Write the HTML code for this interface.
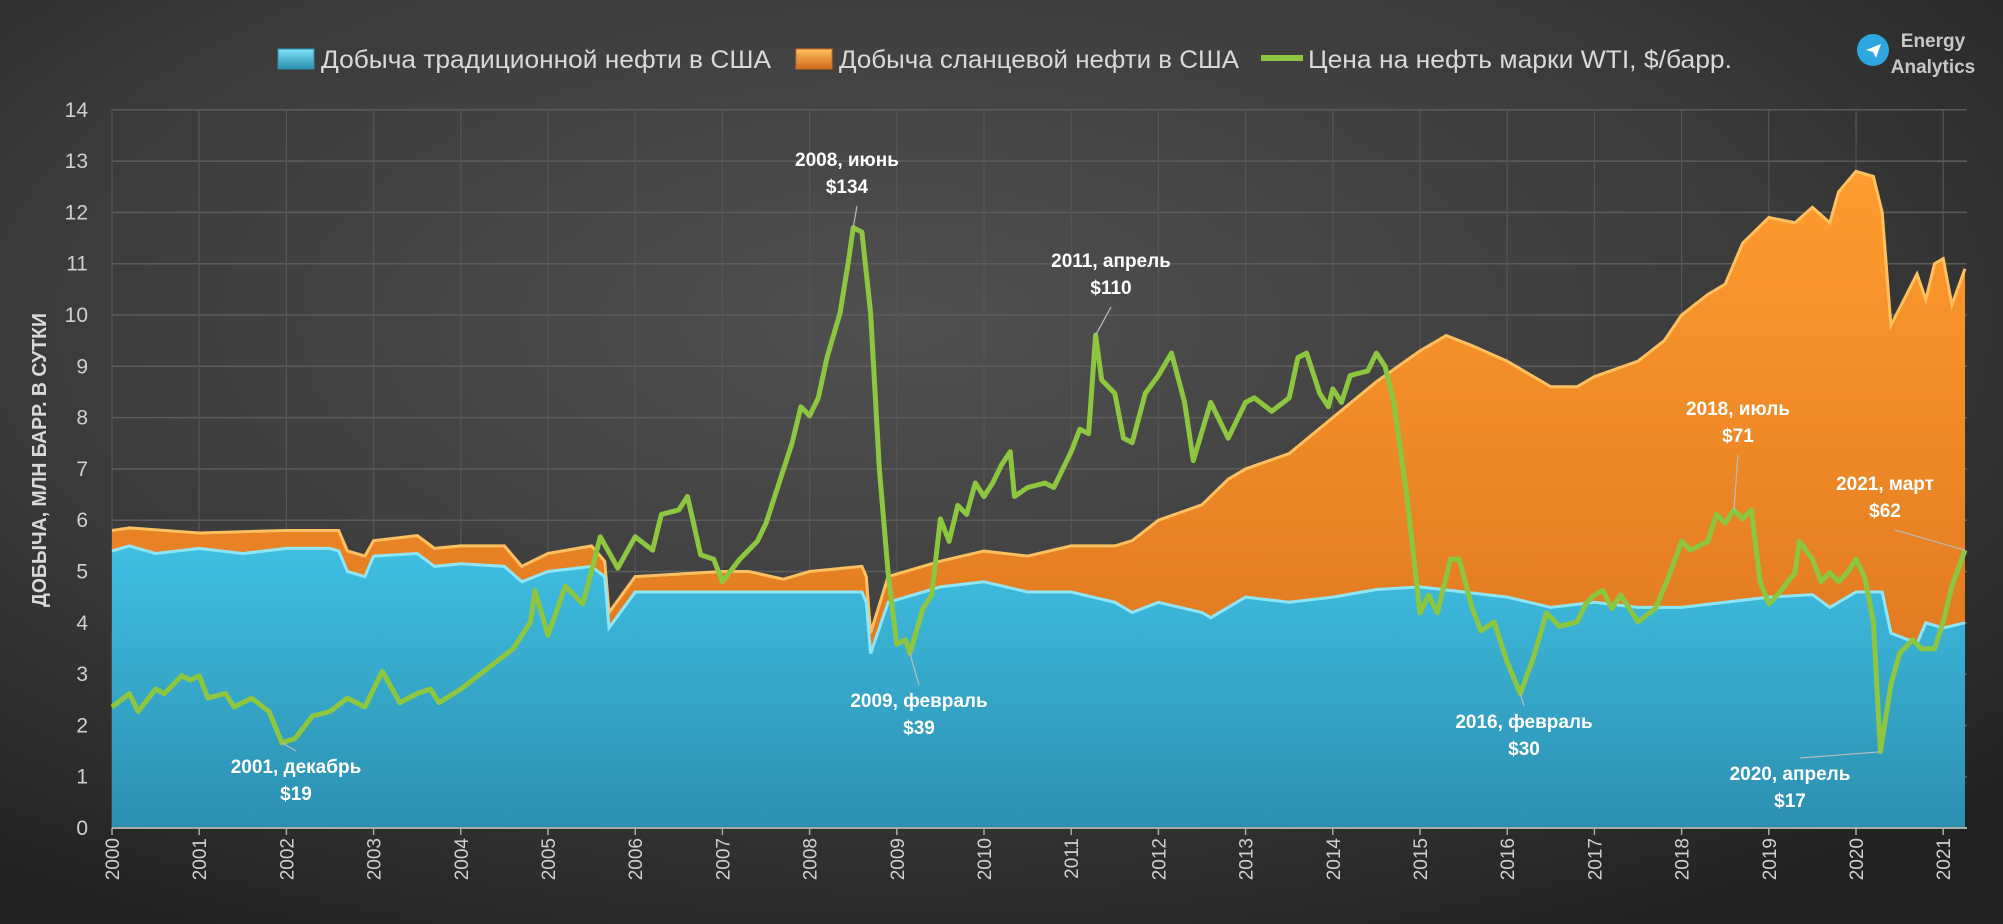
<!DOCTYPE html>
<html><head><meta charset="utf-8"><style>
html,body{margin:0;padding:0;}
body{width:2003px;height:924px;overflow:hidden;background:#2a2a2a;}
svg{display:block;font-family:"Liberation Sans",sans-serif;}
</style></head><body>
<svg id="chart" width="2003" height="924" viewBox="0 0 2003 924">
<defs>
<radialGradient id="bg" cx="0.45" cy="0.35" r="0.75">
<stop offset="0" stop-color="#505050"/><stop offset="0.6" stop-color="#3a3a3a"/><stop offset="1" stop-color="#222"/>
</radialGradient>
<linearGradient id="gBlue" x1="0" y1="0" x2="0" y2="1">
<stop offset="0" stop-color="#3fbfe2"/><stop offset="1" stop-color="#2c8fb0"/>
</linearGradient>
<linearGradient id="gOr" x1="0" y1="0" x2="0" y2="1">
<stop offset="0" stop-color="#ff9c2e"/><stop offset="1" stop-color="#d66e1c"/>
</linearGradient>
<linearGradient id="gSwB" x1="0" y1="0" x2="0" y2="1">
<stop offset="0" stop-color="#7fe0f6"/><stop offset="1" stop-color="#2a8fb0"/>
</linearGradient>
<linearGradient id="gSwO" x1="0" y1="0" x2="0" y2="1">
<stop offset="0" stop-color="#ffc060"/><stop offset="1" stop-color="#d06a1a"/>
</linearGradient>
</defs>
<rect x="0" y="0" width="2003" height="924" fill="url(#bg)"/>
<g id="grid"></g>
<g id="areas"></g>
<g id="axes"></g>
<g id="line"></g>
<g id="ann"></g>
<g>
<rect x="278" y="49" width="36" height="20" fill="url(#gSwB)" stroke="#2a8fb0"/>
<text x="321" y="68" font-size="25" fill="#d9d9d9" textLength="450" lengthAdjust="spacingAndGlyphs">Добыча традиционной нефти в США</text>
<rect x="796" y="49" width="36" height="20" fill="url(#gSwO)" stroke="#c86a1c"/>
<text x="839" y="68" font-size="25" fill="#d9d9d9" textLength="400" lengthAdjust="spacingAndGlyphs">Добыча сланцевой нефти в США</text>
<line x1="1261" y1="58" x2="1303" y2="58" stroke="#8dc63f" stroke-width="6"/>
<text x="1308" y="68" font-size="25" fill="#d9d9d9" textLength="424" lengthAdjust="spacingAndGlyphs">Цена на нефть марки WTI, $/барр.</text>
</g>
<g>
<circle cx="1873" cy="50" r="16" fill="#2ea6e0"/>
<path d="M1866 50 L1881 44 L1876 58 L1873 52 Z" fill="#fff"/>
<text x="1933" y="47" font-size="19" font-weight="bold" fill="#c8c8c8" text-anchor="middle">Energy</text>
<text x="1933" y="73" font-size="19" font-weight="bold" fill="#c8c8c8" text-anchor="middle">Analytics</text>
</g>
<text transform="translate(46,460) rotate(-90)" font-size="20" font-weight="bold" fill="#d9d9d9" text-anchor="middle" textLength="294" lengthAdjust="spacingAndGlyphs">ДОБЫЧА, МЛН БАРР. В СУТКИ</text>
</svg>
<script>
const convT=[2000,2000.2,2000.5,2001,2001.5,2002,2002.5,2002.6,2002.7,2002.9,2003,2003.5,2003.7,2004,2004.5,2004.7,2005,2005.5,2005.65,2005.7,2006,2007,2008,2008.6,2008.65,2008.7,2008.9,2009.5,2010,2010.5,2011,2011.5,2011.7,2012,2012.5,2012.6,2013,2013.5,2014,2014.5,2015,2015.5,2016,2016.5,2017,2017.5,2018,2018.5,2019,2019.5,2019.7,2020,2020.3,2020.4,2020.7,2020.8,2021,2021.25];
const convV=[5.4,5.5,5.35,5.45,5.35,5.45,5.45,5.4,5.0,4.9,5.3,5.35,5.1,5.15,5.1,4.8,5.0,5.1,4.9,3.9,4.6,4.6,4.6,4.6,4.4,3.4,4.4,4.7,4.8,4.6,4.6,4.4,4.2,4.4,4.2,4.1,4.5,4.4,4.5,4.65,4.7,4.6,4.5,4.3,4.4,4.3,4.3,4.4,4.5,4.55,4.3,4.6,4.6,3.8,3.6,4.0,3.9,4.0];
const totT=[2000,2000.2,2001,2002,2002.6,2002.7,2002.9,2003,2003.5,2003.7,2004,2004.5,2004.7,2005,2005.5,2005.65,2005.7,2006,2007,2007.3,2007.7,2008,2008.6,2008.65,2008.7,2008.9,2009.5,2010,2010.5,2011,2011.5,2011.7,2012,2012.5,2012.8,2013,2013.5,2014,2014.5,2015,2015.3,2015.6,2016,2016.5,2016.8,2017,2017.5,2017.8,2018,2018.3,2018.5,2018.7,2019,2019.3,2019.5,2019.7,2019.8,2020,2020.2,2020.3,2020.4,2020.7,2020.8,2020.9,2021,2021.1,2021.25];
const totV=[5.8,5.85,5.75,5.8,5.8,5.4,5.3,5.6,5.7,5.45,5.5,5.5,5.1,5.35,5.5,5.2,4.2,4.9,5.0,5.0,4.85,5.0,5.1,4.9,3.8,4.9,5.2,5.4,5.3,5.5,5.5,5.6,6.0,6.3,6.8,7.0,7.3,8.0,8.7,9.3,9.6,9.4,9.1,8.6,8.6,8.8,9.1,9.5,10.0,10.4,10.6,11.4,11.9,11.8,12.1,11.8,12.4,12.8,12.7,12.0,9.8,10.8,10.3,11.0,11.1,10.2,10.9];
const priceT=[2000,2000.2,2000.3,2000.5,2000.6,2000.8,2000.9,2001,2001.1,2001.3,2001.4,2001.6,2001.8,2001.95,2002.1,2002.3,2002.5,2002.7,2002.9,2003.1,2003.3,2003.5,2003.65,2003.75,2004,2004.2,2004.4,2004.6,2004.8,2004.85,2005,2005.2,2005.4,2005.6,2005.8,2006,2006.2,2006.3,2006.5,2006.6,2006.75,2006.9,2007,2007.2,2007.4,2007.5,2007.6,2007.8,2007.9,2008,2008.1,2008.2,2008.35,2008.45,2008.5,2008.6,2008.7,2008.8,2008.9,2009,2009.1,2009.15,2009.3,2009.4,2009.5,2009.6,2009.7,2009.8,2009.9,2010,2010.1,2010.2,2010.3,2010.35,2010.5,2010.7,2010.8,2011,2011.1,2011.2,2011.28,2011.35,2011.5,2011.6,2011.7,2011.85,2012,2012.15,2012.3,2012.4,2012.6,2012.8,2013,2013.1,2013.3,2013.5,2013.6,2013.7,2013.85,2013.95,2014,2014.1,2014.2,2014.4,2014.5,2014.6,2014.7,2014.85,2015,2015.1,2015.2,2015.35,2015.45,2015.6,2015.7,2015.85,2016,2016.15,2016.3,2016.45,2016.6,2016.8,2016.9,2017,2017.1,2017.2,2017.3,2017.5,2017.7,2017.85,2018,2018.1,2018.3,2018.4,2018.5,2018.6,2018.7,2018.8,2018.9,2019,2019.1,2019.3,2019.35,2019.5,2019.6,2019.7,2019.8,2019.9,2020,2020.1,2020.2,2020.28,2020.4,2020.5,2020.65,2020.75,2020.9,2021,2021.1,2021.25];
const priceV=[27,30,26,31,30,34,33,34,29,30,27,29,26,19,20,25,26,29,27,35,28,30,31,28,31,34,37,40,46,53,43,54,50,65,58,65,62,70,71,74,61,60,55,60,64,68,74,86,94,92,96,105,115,127,134,133,115,80,57,41,42,39,49,52,69,64,72,70,77,74,77,81,84,74,76,77,76,84,89,88,110,100,97,87,86,97,101,106,95,82,95,87,95,96,93,96,105,106,97,94,98,95,101,102,106,103,95,74,48,52,48,60,60,49,44,46,37,30,38,48,45,46,50,52,53,49,52,46,49,56,64,62,64,70,68,71,69,71,55,50,52,57,64,60,55,57,55,57,60,56,46,17,32,39,42,40,40,46,54,62];
const priceScale=11.45; // $ per axis unit (134$ ≈ 11.7)
const yTicks=[0,1,2,3,4,5,6,7,8,9,10,11,12,13,14];
const xTicks=[2000,2001,2002,2003,2004,2005,2006,2007,2008,2009,2010,2011,2012,2013,2014,2015,2016,2017,2018,2019,2020,2021];
const annLabels=["2001, декабрь","2008, июнь","2009, февраль","2011, апрель","2016, февраль","2018, июль","2020, апрель","2021, март"];
const annValues=["$19","$134","$39","$110","$30","$71","$17","$62"];
const annT=[2001.95,2008.5,2009.15,2011.28,2016.15,2018.6,2020.28,2021.25];

const X0=112,PX=87.2,Y0=828,PY=51.3,XR=1967;
const xs=t=>X0+(t-2000)*PX, ys=v=>Y0-v*PY;
const NS='http://www.w3.org/2000/svg';
function mk(tag,parent,attrs){const e=document.createElementNS(NS,tag);for(const k in attrs)e.setAttribute(k,attrs[k]);parent.appendChild(e);return e;}
const grid=document.getElementById('grid'),axes=document.getElementById('axes'),areas=document.getElementById('areas'),lineG=document.getElementById('line'),ann=document.getElementById('ann');
yTicks.forEach(v=>{
  const l=mk('line',grid,{x1:X0,x2:XR,y1:ys(v),y2:ys(v),stroke:'#5c5c5c','stroke-width':1.5});
  
  
  const t=mk('text',axes,{x:88,y:ys(v)+7,'font-size':21,fill:'#d0d0d0','text-anchor':'end'});
  
  
  t.textContent=v;
});
xTicks.forEach(v=>{
  const l=mk('line',grid,{x1:xs(v),x2:xs(v),y1:ys(14),y2:Y0,stroke:'#555','stroke-width':1.2});
  
  
  const tk=mk('line',axes,{x1:xs(v),x2:xs(v),y1:Y0,y2:Y0+7,stroke:'#aaa','stroke-width':1.5});
  
  
  const t=mk('text',axes,{transform:`translate(${xs(v)+7},${Y0+10}) rotate(-90)`,'font-size':19,fill:'#d0d0d0','text-anchor':'end'});
  
  
  t.textContent=v;
});
function areaPath(T,V){let d=`M${xs(T[0])},${Y0}`;T.forEach((t,i)=>d+=` L${xs(t).toFixed(1)},${ys(V[i]).toFixed(1)}`);return d+` L${xs(T[T.length-1])},${Y0} Z`;}
function linePath(T,V){return T.map((t,i)=>(i?'L':'M')+xs(t).toFixed(1)+','+ys(V[i]).toFixed(1)).join(' ');}
const ao=mk('path',areas,{d:areaPath(totT,totV),fill:'url(#gOr)'});


const aoe=mk('path',areas,{d:linePath(totT,totV),fill:'none',stroke:'#ffc060','stroke-width':3});


const ab=mk('path',areas,{d:areaPath(convT,convV),fill:'url(#gBlue)'});


const abe=mk('path',areas,{d:linePath(convT,convV),fill:'none',stroke:'#8fe6f8','stroke-width':3});


const ax=mk('line',axes,{x1:X0,x2:XR,y1:Y0,y2:Y0,stroke:'#aaa','stroke-width':2});


const pl=mk('path',lineG,{d:linePath(priceT,priceV.map(p=>p/priceScale)),fill:'none',stroke:'#8dc63f','stroke-width':5,'stroke-linejoin':'round'});


const annPos=[[296,773,'b'],[847,166,'t'],[919,707,'b'],[1111,267,'t'],[1524,728,'b'],[1738,415,'t'],[1790,780,'b'],[1885,490,'t']];
annT.forEach((t,i)=>{
  const idx=priceT.indexOf(t);const px=xs(t),py=ys(priceV[idx]/priceScale);
  const [lx,ly,side]=annPos[i];
  const ey=side==='t'?ly+40:ly-22;
  const ld=mk('line',ann,{x1:px,y1:py,x2:lx+(px>lx?10:0),y2:ey,stroke:'#bbb','stroke-width':1.2});
  
  
  const a=mk('text',ann,{x:lx,y:ly,'font-size':19,'font-weight':'bold',fill:'#fff','text-anchor':'middle'});
  
  
  a.textContent=annLabels[i];
  const b=mk('text',ann,{x:lx,y:ly+27,'font-size':19,'font-weight':'bold',fill:'#fff','text-anchor':'middle'});
  
  
  b.textContent=annValues[i];
});
</script>
</body></html>
